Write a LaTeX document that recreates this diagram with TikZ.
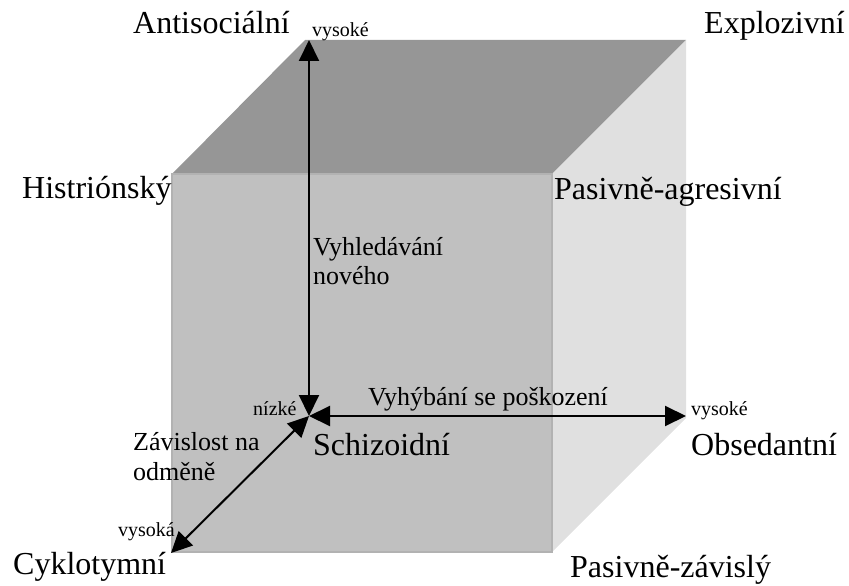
\documentclass[tikz,border=0pt]{standalone}
\usepackage{fontspec}
\setmainfont{Liberation Serif}
\usetikzlibrary{arrows.meta}
\definecolor{frontgray}{HTML}{C0C0C0}
\definecolor{frontedge}{HTML}{B2B2B2}
\definecolor{topgray}{HTML}{969696}
\definecolor{sidegray}{HTML}{E0E0E0}
\tikzset{
  big/.style={anchor=base west, inner sep=0pt, font=\fontsize{32}{36}\selectfont},
  mid/.style={anchor=base west, inner sep=0pt, font=\fontsize{26}{30}\selectfont},
  small/.style={anchor=base west, inner sep=0pt, font=\fontsize{20}{24}\selectfont},
  axis/.style={line width=2pt, {Triangle[length=21pt,width=20pt]}-{Triangle[length=21pt,width=20pt]}},
}
\begin{document}
\begin{tikzpicture}[x=1pt,y=-1pt]
\useasboundingbox (0,0) rectangle (849,586);
% cube faces
\fill[topgray] (172,174) -- (305,40) -- (686,40) -- (552,174) -- cycle;
\fill[sidegray] (552,174) -- (686,40) -- (686,418) -- (552,552) -- cycle;
\fill[frontgray] (172,174) rectangle (552,552);
\draw[frontedge, line width=1.5pt] (172,174) rectangle (552,552);
% axis end points
\coordinate (O) at (309,416);
\coordinate (T) at (309,40);
\coordinate (R) at (686,416);
\coordinate (D) at (171,553);
\draw[axis] (T) -- (O);
\draw[axis] (O) -- (R);
\draw[axis] (D) -- (O);
% corner labels
\node[big] (anti) at (133,34) {Antisociální};
\node[big] (explo) at (704,34) {Explozivní};
\node[big] (hist) at (22,198) {Histriónský};
\node[big] (pagr) at (554,199) {Pasivně-agresivní};
\node[big] (schiz) at (313,455) {Schizoidní};
\node[big] (obs) at (691,455) {Obsedantní};
\node[big] (cykl) at (13,574) {Cyklotymní};
\node[big] (pzav) at (570,577) {Pasivně-závislý};
% axis labels
\node[mid] (vyh1) at (313,255) {Vyhledávání};
\node[mid] (vyh2) at (313,284) {nového};
\node[mid] (poskoz) at (368,405) {Vyhýbání se poškození};
\node[mid] (zav1) at (133,450) {Závislost na};
\node[mid] (zav2) at (133,480) {odměně};
% axis end values
\node[small] (vtop) at (312,37) {vysoké};
\node[small] (nizke) at (253,415) {nízké};
\node[small] (vright) at (691,415) {vysoké};
\node[small] (vdiag) at (118,536) {vysoká};
\end{tikzpicture}
\end{document}
